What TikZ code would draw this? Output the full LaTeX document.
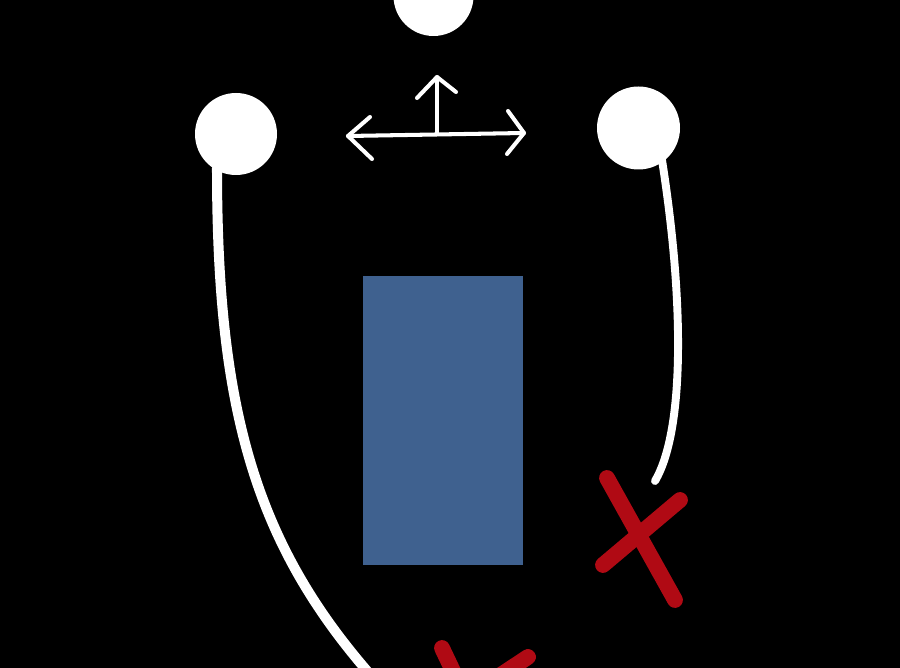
\documentclass[tikz,border=0pt]{standalone}
\begin{document}
\begin{tikzpicture}[x=0.02cm,y=-0.02cm,
  dot/.style={circle,fill=white,draw=none,minimum size=#1,inner sep=0pt},
  arrowline/.style={white,line width=2.3pt,line cap=round,line join=round},
  strand/.style={white,line cap=round},
  cross/.style={line width=9pt,line cap=round}]
\definecolor{boxblue}{HTML}{3F618F}
\definecolor{xred}{HTML}{B00A14}
\fill[black] (0,0) rectangle (900,668);
\useasboundingbox (0,0) rectangle (900,668);
% circles
\node[dot=80*0.02cm] (top) at (433.5,-4) {};
\node[dot=82*0.02cm] (left) at (236,134) {};
\node[dot=83*0.02cm] (right) at (638.5,128) {};
% arrows
\coordinate (hl) at (348,136);
\coordinate (hr) at (524,133);
\coordinate (vb) at (437,134);
\coordinate (vt) at (437,77);
\draw[arrowline] (hl) -- (hr);
\draw[arrowline] (370,117) -- (hl) -- (372,159);
\draw[arrowline] (508,111) -- (hr) -- (507,154);
\draw[arrowline] (vb) -- (vt);
\draw[arrowline] (417,98) -- (vt) -- (456,92);
% rectangle
\node[fill=boxblue,draw=none,minimum width=160*0.02cm,minimum height=289*0.02cm,inner sep=0pt] (box) at (443,420.5) {};
% strands
\coordinate (lend) at (375,680);
\coordinate (rend) at (655,481);
\draw[strand,line width=5.7pt] (217,168) .. controls (217,410) and (255,545) .. (lend);
\draw[strand,line width=4.5pt] (662,160) .. controls (684,300) and (685,430) .. (rend);
% red crosses
\draw[cross,xred] (607,478) -- (675,600);
\draw[cross,xred] (680,500) -- (603,565);
\draw[cross,xred] (442,648) -- (462,690);
\draw[cross,xred] (528,657) -- (478,690);
\end{tikzpicture}
\end{document}
